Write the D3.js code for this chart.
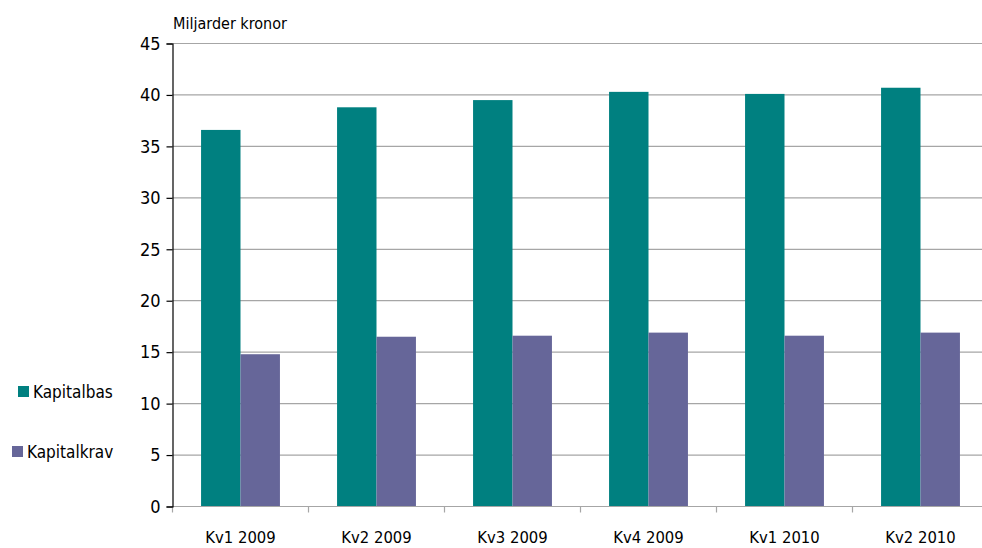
<!DOCTYPE html>
<html><head><meta charset="utf-8">
<script src="https://cdn.jsdelivr.net/npm/d3@7"></script>
<style>
html,body{margin:0;padding:0;background:#fff;}
svg{display:block;font-family:"Liberation Sans Narrow","DejaVu Sans Condensed",sans-serif;}
</style></head>
<body><svg id="c" width="982" height="548"></svg>
<script>
const categories = ["Kv1 2009","Kv2 2009","Kv3 2009","Kv4 2009","Kv1 2010","Kv2 2010"];
const seriesNames = ["Kapitalbas","Kapitalkrav"];
const kapitalbas = [36.6, 38.8, 39.5, 40.3, 40.1, 40.7];
const kapitalkrav = [14.8, 16.5, 16.6, 16.9, 16.6, 16.9];
const yTicks = [0,5,10,15,20,25,30,35,40,45];
const colors = ["#008080","#666699"];
const unitLabel = "Miljarder kronor";

(function(){
const svg = d3.select("#c");
const pL = 172.5, pR = 988.5, pT = 43.5, pB = 506.5;
const x = d3.scaleBand().domain(categories).range([pL, pR]).paddingInner(0.42).paddingOuter(0.21);
const x0 = d3.scaleBand().domain(categories).range([pL, pR]);
const xs = d3.scaleBand().domain(seriesNames).range([0, x.bandwidth()]);
const y = d3.scaleLinear().domain([0,45]).range([pB, pT]);

// gridlines
svg.append("g").selectAll("line").data(yTicks.filter(d=>d>0)).join("line")
  .attr("x1", pL).attr("x2", 982).attr("y1", d=>y(d)).attr("y2", d=>y(d))
  .attr("stroke", "#a6a6a6").attr("stroke-width", 1.2);

// bars
const data = [kapitalbas, kapitalkrav];
seriesNames.forEach((s, si) => {
  svg.append("g").selectAll("rect").data(categories).join("rect")
    .attr("x", c => x(c) + xs(s))
    .attr("width", xs.bandwidth())
    .attr("y", (c,i) => y(data[si][i]))
    .attr("height", (c,i) => y(0) - y(data[si][i]))
    .attr("fill", colors[si]);
});

// x axis
const xAxis = svg.append("g").attr("transform", `translate(0,${pB})`);
xAxis.append("line").attr("x1", pL).attr("x2", 982).attr("y1",0).attr("y2",0).attr("stroke","#a6a6a6").attr("stroke-width",1.2);
xAxis.selectAll("line.t").data(categories).join("line").attr("class","t")
  .attr("x1", c=>x0(c)+x0.bandwidth()).attr("x2", c=>x0(c)+x0.bandwidth())
  .attr("y1",0).attr("y2",6).attr("stroke","#a6a6a6").attr("stroke-width",1.2);
xAxis.append("line").attr("x1",pL).attr("x2",pL).attr("y1",0).attr("y2",6).attr("stroke","#a6a6a6").attr("stroke-width",1.2);
xAxis.selectAll("text").data(categories).join("text")
  .attr("x", c=>x0(c)+x0.bandwidth()/2).attr("y", 36)
  .attr("text-anchor","middle").attr("font-size",16.5).attr("fill","#000").text(d=>d);

// y axis
const yAxis = d3.axisLeft(y).tickValues(yTicks).tickSize(6).tickPadding(6).tickFormat(d3.format("d"));
const gy = svg.append("g").attr("transform",`translate(${pL},0)`).call(yAxis);
gy.attr("font-family", null).attr("font-size", null);
gy.select(".domain").attr("stroke","#000").attr("stroke-width",1.2);
gy.selectAll(".tick line").attr("stroke","#000").attr("stroke-width",1.2);
gy.selectAll(".tick text").attr("font-size",18).attr("fill","#000");

svg.append("text").attr("x",173).attr("y",29).attr("font-size",16).attr("fill","#000").text(unitLabel);

// legend
const leg = [{x:18,y:386,tx:33,ty:398},{x:12,y:446,tx:27,ty:458}];
seriesNames.forEach((s,i)=>{
  svg.append("rect").attr("x",leg[i].x).attr("y",leg[i].y).attr("width",11).attr("height",11).attr("fill",colors[i]);
  svg.append("text").attr("x",leg[i].tx).attr("y",leg[i].ty).attr("font-size",17).attr("fill","#000").text(s);
});
})();
</script></body></html>
